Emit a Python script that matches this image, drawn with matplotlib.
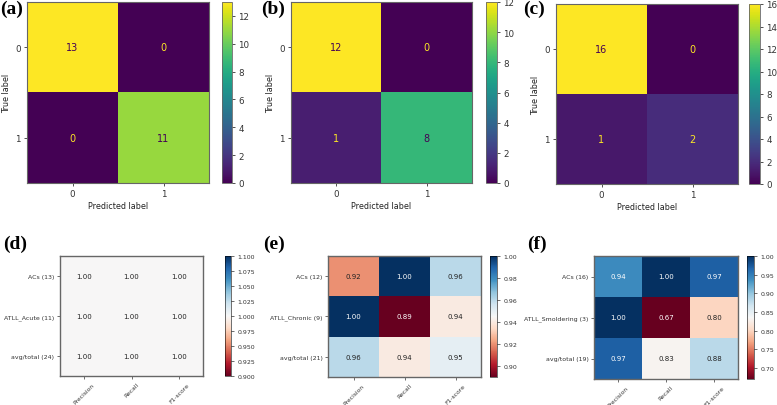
import numpy as np
import matplotlib
matplotlib.use("Agg")
import matplotlib.pyplot as plt

W, H = 777, 406

# confusion matrices (rows: true label, cols: predicted label)
cm_a = [[13, 0], [0, 11]]
cm_b = [[12, 0], [1, 8]]
cm_c = [[16, 0], [1, 2]]
cm_ticks = ["0", "1"]

# classification reports
metrics = ["Precision", "Recall", "F1-score"]
rows_d = ["ACs (13)", "ATLL_Acute (11)", "avg/total (24)"]
rep_d = [[1.00, 1.00, 1.00], [1.00, 1.00, 1.00], [1.00, 1.00, 1.00]]
rows_e = ["ACs (12)", "ATLL_Chronic (9)", "avg/total (21)"]
rep_e = [[0.92, 1.00, 0.96], [1.00, 0.89, 0.94], [0.96, 0.94, 0.95]]
rows_f = ["ACs (16)", "ATLL_Smoldering (3)", "avg/total (19)"]
rep_f = [[0.94, 1.00, 0.97], [1.00, 0.67, 0.80], [0.97, 0.83, 0.88]]


def box(l, t, r, b):
    return [l / W, 1 - b / H, (r - l) / W, (b - t) / H]


fig = plt.figure(figsize=(W / 100, H / 100), dpi=100)
edge = "#666666"


def conf_panel(cm, ax_box, cb_box, letter, lx):
    cm = np.array(cm)
    ax = fig.add_axes(box(*ax_box))
    cax = fig.add_axes(box(*cb_box))
    cmap = plt.get_cmap("viridis")
    im = ax.imshow(cm, cmap=cmap, aspect="auto", interpolation="nearest")
    thresh = (cm.max() + cm.min()) / 2
    for i in range(2):
        for j in range(2):
            col = cmap(0.0) if cm[i, j] > thresh else cmap(1.0)
            ax.text(j, i, str(cm[i, j]), ha="center", va="center", color=col, fontsize=7)
    ax.set_xticks(range(2), cm_ticks, fontsize=6.3)
    ax.set_yticks(range(2), cm_ticks, fontsize=6.3)
    ax.tick_params(length=2.5, width=0.6, pad=2, colors="#333333")
    ax.set_xlabel("Predicted label", fontsize=5.8, labelpad=2, color="#222222")
    ax.set_ylabel("True label", fontsize=5.8, labelpad=3, color="#222222")
    for s in ax.spines.values():
        s.set_color(edge)
        s.set_linewidth(0.8)
    cb = fig.colorbar(im, cax=cax)
    cb.ax.tick_params(labelsize=6.3, length=2.5, width=0.6, pad=2, colors="#333333")
    cb.outline.set_edgecolor(edge)
    cb.outline.set_linewidth(0.6)
    fig.text(lx / W, 1 - 1 / H, letter, ha="left", va="top", fontsize=14,
             fontweight="bold", family="Liberation Serif")


def report_panel(rep, rows, ax_box, cb_box, vmin, vmax, letter, lx):
    rep = np.array(rep)
    ax = fig.add_axes(box(*ax_box))
    cax = fig.add_axes(box(*cb_box))
    im = ax.imshow(rep, cmap="RdBu", vmin=vmin, vmax=vmax, aspect="auto",
                   interpolation="nearest")
    for i in range(rep.shape[0]):
        for j in range(rep.shape[1]):
            n = (rep[i, j] - vmin) / (vmax - vmin)
            col = "white" if abs(n - 0.5) > 0.3 else "#222222"
            ax.text(j, i, f"{rep[i, j]:.2f}", ha="center", va="center", color=col, fontsize=5)
    ax.set_xticks(range(3), metrics, fontsize=4.3, rotation=45, ha="center")
    ax.set_yticks(range(3), rows, fontsize=4.5)
    ax.tick_params(length=2.5, width=0.5, pad=1.5, colors="#333333")
    for s in ax.spines.values():
        s.set_color(edge)
        s.set_linewidth(1.0)
    cb = fig.colorbar(im, cax=cax)
    cb.ax.tick_params(labelsize=4.5, length=2.5, width=0.5, pad=2, colors="#333333")
    cb.outline.set_linewidth(0.4)
    fig.text(lx / W, 1 - 236 / H, letter, ha="left", va="top", fontsize=14,
             fontweight="bold", family="Liberation Serif")


conf_panel(cm_a, (27, 3, 209, 184), (222, 3, 232, 184), "(a)", 0)
conf_panel(cm_b, (291, 3, 472, 184), (486, 3, 497, 184), "(b)", 261)
conf_panel(cm_c, (556, 5, 738, 185), (749, 5, 760, 185), "(c)", 523)

report_panel(rep_d, rows_d, (60, 257, 203, 377), (225, 257, 231, 377), 0.9, 1.1, "(d)", 3)
report_panel(rep_e, rows_e, (328, 257, 481, 378), (490, 257, 497, 378), 0.89, 1.0, "(e)", 263)
report_panel(rep_f, rows_f, (594, 257, 738, 380), (747, 257, 754, 380), 0.67, 1.0, "(f)", 527)

fig.savefig("out.png", dpi=100)
